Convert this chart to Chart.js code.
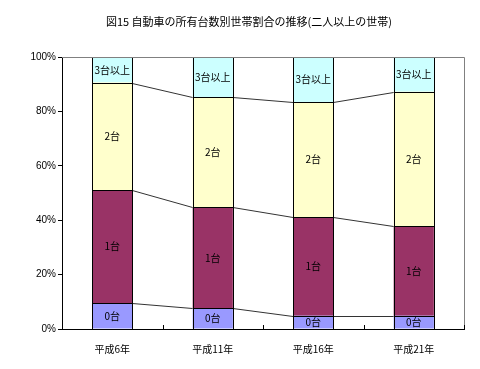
<!DOCTYPE html>
<html>
<head>
<meta charset="utf-8">
<script src="https://cdn.jsdelivr.net/npm/chart.js@4.4.1/dist/chart.umd.min.js"></script>
<style>
  html, body { margin: 0; padding: 0; background: #fff; }
  #wrap { width: 480px; height: 369px; }
</style>
</head>
<body>
<div id="wrap"><canvas id="myChart" width="480" height="369"></canvas></div>
<script>
// values (percent of households)
var categories = ['平成6年', '平成11年', '平成16年', '平成21年'];
var seriesNames = ['0台', '1台', '2台', '3台以上'];
var zeroCars  = [9.5, 7.6, 4.9, 4.9];
var oneCar    = [41.6, 37.2, 36.2, 32.9];
var twoCars   = [39.5, 40.5, 42.4, 49.4];
var threePlus = [9.4, 14.7, 16.5, 12.8];
var yTicks = [0, 20, 40, 60, 80, 100];
var titleText = '図15 自動車の所有台数別世帯割合の推移(二人以上の世帯)';

var colors = ['#9999FF', '#993366', '#FFFFCC', '#CCFFFF'];
var allSeries = [zeroCars, oneCar, twoCars, threePlus];
var jp = '"Noto Sans CJK JP", "Noto Sans", sans-serif';

function px(v) { return Math.round(v) + 0.5; }

// title, outlines, series lines, labels in segments, frame, inner ticks
var extras = {
  id: 'extras',
  afterDatasetsDraw: function(chart) {
    var ctx = chart.ctx;
    var area = chart.chartArea;
    ctx.save();
    ctx.lineWidth = 1;

    // title (sits a bit right of the plot centre, like the original)
    ctx.font = '11px ' + jp;
    ctx.fillStyle = '#000';
    ctx.textAlign = 'center';
    ctx.textBaseline = 'middle';
    ctx.fillText(titleText, 249, 22);

    // series lines between the bars
    ctx.strokeStyle = '#333';
    for (var d = 0; d < 3; d++) {
      var els = chart.getDatasetMeta(d).data;
      for (var i = 0; i < els.length - 1; i++) {
        var a = els[i], b = els[i + 1];
        ctx.beginPath();
        ctx.moveTo(a.x + a.width / 2, px(a.y));
        ctx.lineTo(b.x - b.width / 2, px(b.y));
        ctx.stroke();
      }
    }

    // black outline of each segment
    ctx.strokeStyle = '#000';
    for (var s = 0; s < seriesNames.length; s++) {
      chart.getDatasetMeta(s).data.forEach(function(el) {
        var l = px(el.x - el.width / 2), r = px(el.x + el.width / 2);
        var t = px(Math.min(el.y, el.base)), b = px(Math.max(el.y, el.base));
        ctx.strokeRect(l, t, r - l, b - t);
      });
    }

    // labels inside the segments
    ctx.font = '10px ' + jp;
    for (var s2 = 0; s2 < seriesNames.length; s2++) {
      chart.getDatasetMeta(s2).data.forEach(function(el) {
        var left = el.x - el.width / 2;
        var top = Math.min(el.y, el.base);
        var h = Math.abs(el.base - el.y);
        ctx.save();
        ctx.beginPath();
        ctx.rect(left + 1, top, el.width - 2, h);
        ctx.clip();
        ctx.fillText(seriesNames[s2], el.x, top + h / 2);
        ctx.restore();
      });
    }

    // grey frame on top and right
    ctx.strokeStyle = '#808080';
    ctx.beginPath();
    ctx.moveTo(area.left, px(area.top));
    ctx.lineTo(px(area.right), px(area.top));
    ctx.lineTo(px(area.right), area.bottom);
    ctx.stroke();

    // x tick marks pointing up, between categories
    var xs = chart.scales.x;
    ctx.strokeStyle = '#000';
    ctx.beginPath();
    for (var k = 1; k <= categories.length; k++) {
      var tx = k < categories.length
        ? (xs.getPixelForValue(k - 1) + xs.getPixelForValue(k)) / 2
        : area.right;
      ctx.moveTo(px(tx), area.bottom - 4);
      ctx.lineTo(px(tx), area.bottom);
    }
    ctx.stroke();
    ctx.restore();
  }
};

var datasets = allSeries.map(function(vals, i) {
  return {
    label: seriesNames[i],
    data: vals,
    backgroundColor: colors[i],
    borderWidth: 0,
    barPercentage: 0.4,
    categoryPercentage: 1.0
  };
});

var ctx = document.getElementById('myChart').getContext('2d');
var chart = new Chart(ctx, {
  type: 'bar',
  data: { labels: categories, datasets: datasets },
  options: {
    responsive: false,
    animation: false,
    layout: { padding: { left: 0, right: 16, top: 57, bottom: 0 } },
    plugins: {
      legend: { display: false },
      tooltip: { enabled: false },
      title: { display: false }
    },
    scales: {
      x: {
        stacked: true,
        grid: { display: false },
        border: { color: '#000', width: 1 },
        ticks: { color: '#000', font: { family: jp, size: 10 }, padding: 6 },
        afterFit: function(scale) { scale.height = 40; }
      },
      y: {
        stacked: true,
        min: 0,
        max: 100,
        afterBuildTicks: function(scale) {
          scale.ticks = yTicks.map(function(v) { return { value: v }; });
        },
        grid: { drawOnChartArea: false, drawTicks: true, tickLength: 4, color: '#000' },
        border: { color: '#000', width: 1 },
        ticks: {
          color: '#000',
          font: { family: '"Liberation Sans", Arial, sans-serif', size: 10 },
          padding: 2,
          callback: function(v) { return v + '%'; }
        },
        afterFit: function(scale) { scale.width = 62; }
      }
    }
  },
  plugins: [extras]
});
</script>
</body>
</html>
